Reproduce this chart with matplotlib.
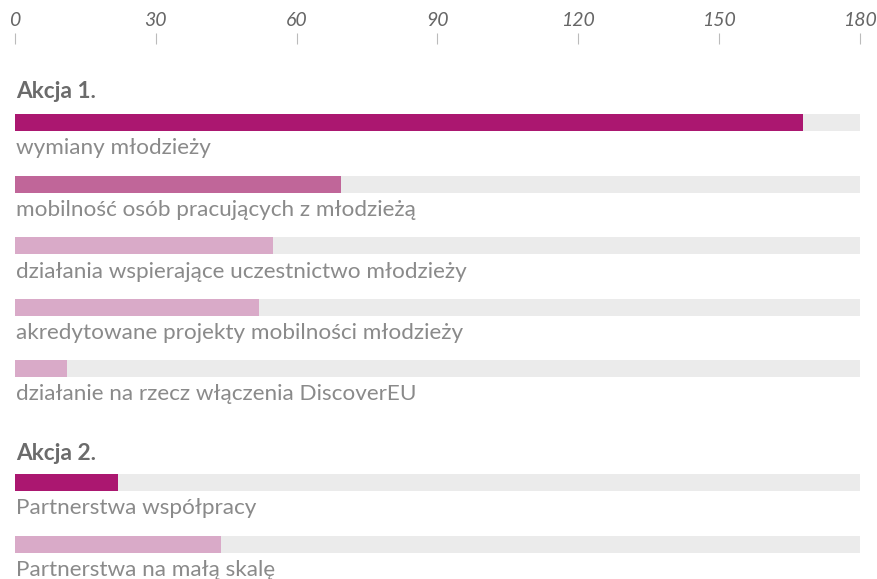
import matplotlib.pyplot as plt

# Dane: liczba projektów w poszczególnych działaniach
groups = ["Akcja 1.", "Akcja 2."]
labels_a1 = [
    "wymiany młodzieży",
    "mobilność osób pracujących z młodzieżą",
    "działania wspierające uczestnictwo młodzieży",
    "akredytowane projekty mobilności młodzieży",
    "działanie na rzecz włączenia DiscoverEU",
]
values_a1 = [168, 69.5, 55, 52, 11]
labels_a2 = ["Partnerstwa współpracy", "Partnerstwa na małą skalę"]
values_a2 = [22, 44]
xmax = 180
xticks = [0, 30, 60, 90, 120, 150, 180]

dark = "#ab1770"
mid = "#c06699"
light = "#d9aac8"
colors_a1 = [dark, mid, light, light, light]
colors_a2 = [dark, light]

W, H = 877, 579
fig = plt.figure(figsize=(W / 100, H / 100), dpi=100)
top = 44
ax = fig.add_axes([15 / W, 0, 844.5 / W, (H - top) / H])
ax.set_xlim(0, xmax)
ax.set_ylim(H, top)  # y w pikselach od góry

font = "Lato"
txt_col = "#8a8a8a"
bar_h = 17

def draw_group(title, labels, values, colors, y_title, y_first):
    ax.text(0.3, y_title, title, fontsize=16.3, fontweight="bold", color="#6b6b6b",
            family=font, va="center", ha="left")
    for i, (lab, val, c) in enumerate(zip(labels, values, colors)):
        yc = y_first + i * 61.5
        ax.barh(yc, xmax, height=bar_h, color="#ebebeb", left=0)
        ax.barh(yc, val, height=bar_h, color=c, left=0)
        ax.text(0.3, yc + 26, lab, fontsize=16.2, color=txt_col, family=font,
                va="center", ha="left")

draw_group(groups[0], labels_a1, values_a1, colors_a1, 91, 122.5)
draw_group(groups[1], labels_a2, values_a2, colors_a2, 453, 482.5)

ax.xaxis.tick_top()
ax.set_xticks(xticks)
ax.set_xticklabels([str(t) for t in xticks], fontstyle="italic", family=font,
                   fontsize=14, color="#666666")
ax.tick_params(axis="x", length=8, width=0.8, color="#bbbbbb", pad=3)
ax.set_yticks([])
for s in ax.spines.values():
    s.set_visible(False)
ax.set_facecolor("none")

fig.savefig("out.png", dpi=100)
